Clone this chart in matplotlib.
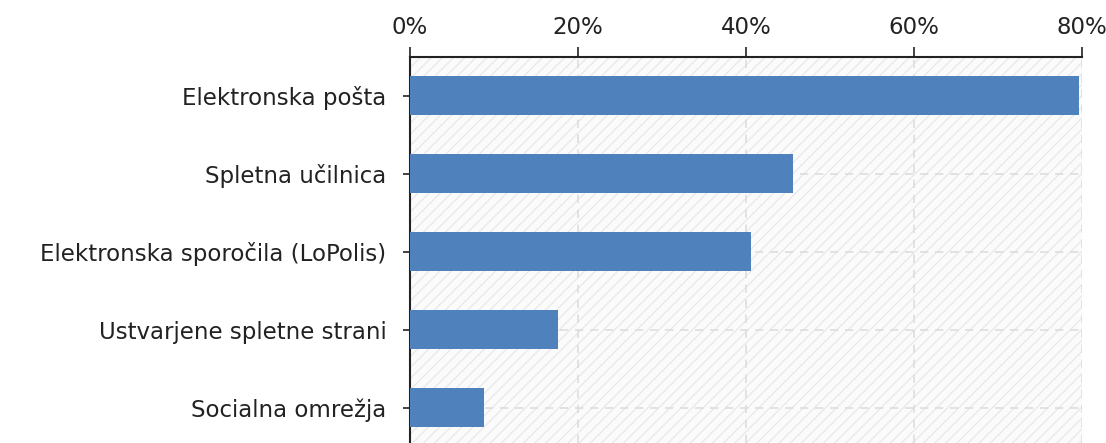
import matplotlib.pyplot as plt
from matplotlib.ticker import PercentFormatter

categories = ["Elektronska pošta", "Spletna učilnica", "Elektronska sporočila (LoPolis)",
              "Ustvarjene spletne strani", "Socialna omrežja"]
values = [79.6, 45.6, 40.6, 17.6, 8.8]

plt.rcParams['font.family'] = ['DejaVu Sans']
plt.rcParams['hatch.linewidth'] = 0.9
plt.rcParams['hatch.color'] = '#e8e8e8'

fig = plt.figure(figsize=(11.06, 4.43), dpi=100)
ax = fig.add_axes([410 / 1106, 0.0, 672 / 1106, 386 / 443])

# hatched plot background
ax.patch.set_facecolor('#fbfbfb')
ax.patch.set_hatch('///')
ax.patch.set_edgecolor('#e8e8e8')

ypos = range(len(categories))
ax.barh(ypos, values, height=0.5, color='#4f81bd', zorder=3)

ax.set_xlim(0, 80)
ax.set_ylim(4.45, -0.5)
ax.set_xticks([0, 20, 40, 60, 80])
ax.xaxis.set_major_formatter(PercentFormatter(decimals=0))
ax.set_yticks(list(ypos))
ax.set_yticklabels(categories)

ax.xaxis.tick_top()
ax.tick_params(axis='both', colors='#222222', labelsize=16.5, width=1.2,
               labelcolor='#222222')
ax.tick_params(axis='x', length=7, pad=6)
ax.tick_params(axis='y', length=5, pad=12)

ax.grid(True, color='#dddddd', linestyle=(0, (5, 4)), linewidth=1.2, zorder=1)
ax.set_axisbelow(True)

for side in ['right', 'bottom']:
    ax.spines[side].set_visible(False)
for side in ['top', 'left']:
    ax.spines[side].set_color('#222222')
    ax.spines[side].set_linewidth(1.5)

fig.savefig('out.png', dpi=100)
